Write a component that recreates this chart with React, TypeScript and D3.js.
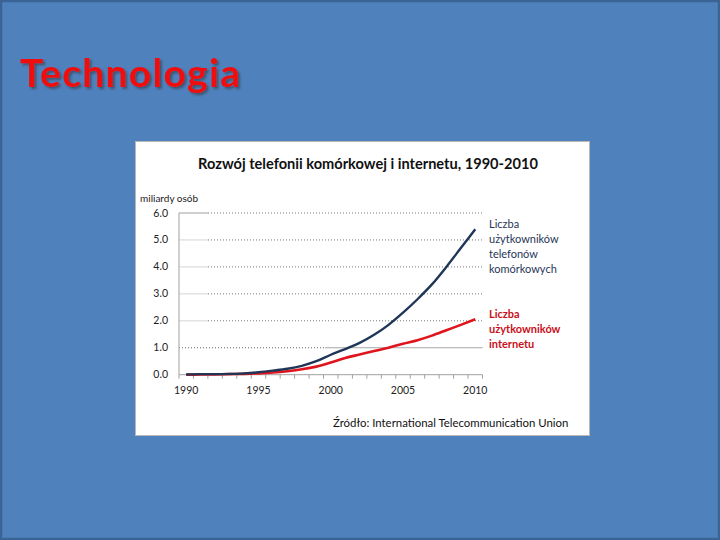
import React from "react";
import * as d3 from "d3";

const years = [1990,1991,1992,1993,1994,1995,1996,1997,1998,1999,2000,2001,2002,2003,2004,2005,2006,2007,2008,2009,2010];
const mobile = [0.01,0.02,0.02,0.03,0.05,0.09,0.15,0.22,0.33,0.5,0.74,0.95,1.18,1.48,1.85,2.3,2.8,3.35,4.0,4.7,5.4];
const internet = [0.003,0.005,0.01,0.02,0.03,0.05,0.08,0.13,0.2,0.3,0.45,0.62,0.75,0.88,1.0,1.15,1.28,1.45,1.65,1.85,2.06];
const yTicks = [0,1,2,3,4,5,6];
const xLabelYears = [1990,1995,2000,2005,2010];
const mobileLabel = ["Liczba","użytkowników","telefonów","komórkowych"];
const internetLabel = ["Liczba","użytkowników","internetu"];
const chartTitle = "Rozwój telefonii komórkowej i internetu, 1990-2010";
const slideTitle = "Technologia";
const yAxisTitle = "miliardy osób";
const sourceText = "Źródło: International Telecommunication Union";

export default function App() {
  const font = "Lato, 'Open Sans', sans-serif";
  const x = d3.scaleBand<number>().domain(years).range([179, 482.5]).padding(0);
  const y = d3.scaleLinear().domain([0, 6]).range([374.7, 213]);
  const cx = (yr: number) => (x(yr) as number) + x.bandwidth() / 2;
  const line = d3.line<number>().x((_, i) => cx(years[i])).y((d) => y(d)).curve(d3.curveMonotoneX);
  const tickXs = d3.range(years.length + 1).map((k) => 179 + k * x.step());
  const [xL, xR] = x.range();
  return (
    <svg width={720} height={540} style={{ position: "fixed", left: 0, top: 0, display: "block" }}>
      <defs>
        <filter id="shadow" x="-10%" y="-20%" width="130%" height="150%">
          <feDropShadow dx={2} dy={2} stdDeviation={0.8} floodColor="#333" floodOpacity={0.55} />
        </filter>
      </defs>
      <rect x={0} y={0} width={720} height={540} fill="#4f81bd" />
      <rect x={1} y={1} width={718} height={538} fill="none" stroke="#3a6494" strokeWidth={2.5} />
      <text x={20} y={87} fontFamily={font} fontWeight={700} fontSize={39} letterSpacing={1.3} fill="#f01010" filter="url(#shadow)">{slideTitle}</text>

      <rect x={135.5} y={141.5} width={454} height={294} fill="#ffffff" stroke="#b8b8b8" strokeWidth={1} />
      <text x={368} y={169} textAnchor="middle" fontFamily={font} fontWeight={700} fontSize={14.6} fill="#111">{chartTitle}</text>
      <text x={140} y={202} fontFamily={font} fontSize={10} fill="#222">{yAxisTitle}</text>

      {yTicks.filter((t) => t > 0).map((t) => (
        <g key={t}>
          {t === 1 ? (
            <>
              <line x1={xL} x2={325} y1={y(t)} y2={y(t)} stroke="#666" strokeDasharray="1,2" />
              <line x1={325} x2={xR} y1={y(t)} y2={y(t)} stroke="#a6a6a6" />
            </>
          ) : (
            <>
              <line x1={xL} x2={208} y1={y(t)} y2={y(t)} stroke={t === 6 ? "#b0b0b0" : "#dcdcdc"} strokeWidth={1.2} />
              <line x1={208} x2={xR} y1={y(t)} y2={y(t)} stroke="#777" strokeDasharray="1,2" />
            </>
          )}
        </g>
      ))}
      <line x1={xL} x2={xL} y1={y(6)} y2={y(0)} stroke="#a0a0a0" />
      <line x1={xL} x2={xR} y1={y(0)} y2={y(0)} stroke="#a0a0a0" />
      {tickXs.map((tx, i) => (
        <line key={i} x1={tx} x2={tx} y1={y(0)} y2={y(0) + 4} stroke="#a0a0a0" />
      ))}
      {yTicks.map((t) => (
        <text key={t} x={168} y={y(t) + 3.5} textAnchor="end" fontFamily={font} fontSize={10.5} fill="#222">{t.toFixed(1)}</text>
      ))}
      {xLabelYears.map((yr) => (
        <text key={yr} x={cx(yr)} y={394} textAnchor="middle" fontFamily={font} fontSize={10.5} fill="#222">{yr}</text>
      ))}

      <path d={line(internet) || ""} fill="none" stroke="#e0141c" strokeWidth={2.6} />
      <path d={line(mobile) || ""} fill="none" stroke="#1f3657" strokeWidth={2.4} />

      {mobileLabel.map((s, i) => (
        <text key={i} x={489} y={227.5 + i * 15} fontFamily={font} fontSize={11} fill="#1f3657">{s}</text>
      ))}
      {internetLabel.map((s, i) => (
        <text key={i} x={489} y={317.5 + i * 15} fontFamily={font} fontWeight={700} fontSize={11} fill="#c8101a">{s}</text>
      ))}
      <text x={333} y={427} fontFamily={font} fontSize={11.4} fill="#111">{sourceText}</text>
    </svg>
  );
}
